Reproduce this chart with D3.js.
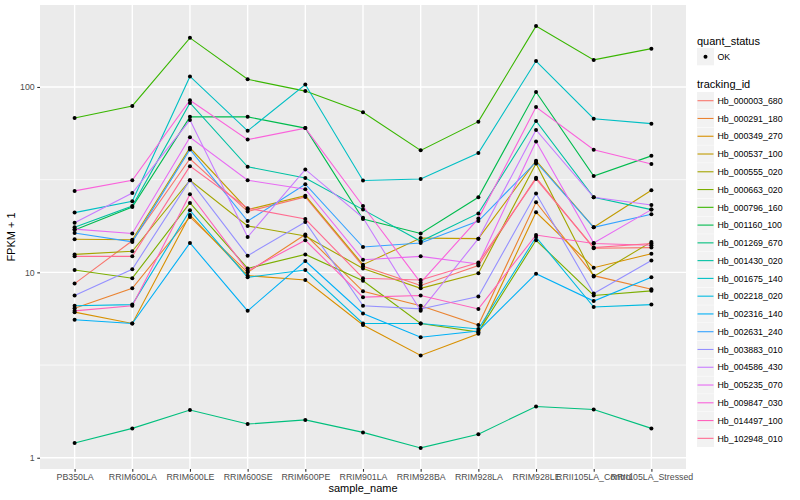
<!DOCTYPE html>
<html>
<head>
<meta charset="utf-8">
<script src="https://cdn.jsdelivr.net/npm/d3@7"></script>
<style>
  body { margin: 0; background: #fff; }
  text { font-family: "Liberation Sans", Arial, sans-serif; }
</style>
</head>
<body>
<svg id="chart" width="800" height="500"></svg>
<script>
// samples on the x axis
const samples = ["PB350LA", "RRIM600LA", "RRIM600LE", "RRIM600SE", "RRIM600PE", "RRIM901LA",
  "RRIM928BA", "RRIM928LA", "RRIM928LE", "RRII105LA_Control", "RRII105LA_Stressed"];

const trackingIds = ["Hb_000003_680", "Hb_000291_180", "Hb_000349_270", "Hb_000537_100", "Hb_000555_020",
  "Hb_000663_020", "Hb_000796_160", "Hb_001160_100", "Hb_001269_670", "Hb_001430_020",
  "Hb_001675_140", "Hb_002218_020", "Hb_002316_140", "Hb_002631_240", "Hb_003883_010",
  "Hb_004586_430", "Hb_005235_070", "Hb_009847_030", "Hb_014497_100", "Hb_102948_010"];

// FPKM + 1, one row per tracking id, one value per sample
const fpkmPlusOne = [
  [8.7, 14.8, 41, 21.3, 25.5, 10.8, 8.5, 10.9, 32.4, 13.5, 13.6],   // Hb_000003_680
  [6.4, 8.2, 19.9, 10.0, 16, 7.9, 6.6, 5.2, 23.9, 9.6, 8.1],        // Hb_000291_180
  [6.1, 5.3, 20.4, 9.6, 9.1, 5.2, 3.56, 4.66, 21.1, 10.6, 12.6],    // Hb_000349_270
  [15.1, 15.0, 47, 21.8, 25.9, 11.0, 15.3, 15.2, 40, 17.5, 27.7],   // Hb_000537_100
  [12.5, 13.0, 31.4, 17.8, 15.7, 10.5, 8.2, 9.9, 38.7, 9.5, 14.6],  // Hb_000555_020
  [10.3, 9.3, 23.7, 10.5, 12.5, 9.0, 5.3, 4.76, 14.9, 7.5, 7.95],   // Hb_000663_020
  [68, 79, 184, 110, 95, 73, 45.5, 65, 213, 140, 161],              // Hb_000796_160
  [16.9, 22.5, 69, 69, 60, 19.4, 16.2, 25.4, 94, 33.1, 42.5],       // Hb_001160_100
  [1.2, 1.44, 1.81, 1.52, 1.6, 1.37, 1.13, 1.34, 1.89, 1.82, 1.44], // Hb_001269_670
  [17.5, 22.8, 82, 37.1, 32.3, 21.8, 14.7, 20.8, 65.5, 25.4, 21.8], // Hb_001430_020
  [21.0, 24.2, 114, 58, 103, 31.3, 31.9, 44, 138, 67.4, 63.4],      // Hb_001675_140
  [6.6, 6.7, 21.6, 9.4, 10.3, 5.3, 5.3, 4.95, 15.5, 6.5, 6.7],      // Hb_002218_020
  [5.55, 5.3, 14.4, 6.2, 11.5, 6.0, 4.47, 4.83, 9.84, 7.0, 9.4],    // Hb_002316_140
  [16.3, 14.6, 46, 18.9, 29.9, 13.7, 14.4, 18.9, 39.4, 17.5, 20.6], // Hb_002631_240
  [7.5, 10.4, 31.4, 12.3, 18.7, 6.6, 6.35, 7.4, 26.6, 7.7, 11.6],   // Hb_003883_010
  [18.5, 26.8, 66.3, 15.5, 35.9, 19.7, 6.2, 15.2, 58.6, 25.4, 23.1],// Hb_004586_430
  [17.1, 16.2, 53.5, 31.4, 28.1, 11.7, 12.2, 11.1, 50.8, 14.4, 21.8],// Hb_005235_070
  [27.5, 31.4, 84.8, 52, 60, 22.8, 8.8, 19.5, 78, 45.9, 38.4],      // Hb_009847_030
  [6.2, 6.6, 26.4, 10.2, 14.9, 7.35, 7.5, 6.35, 15.9, 14.3, 14.0],  // Hb_014497_100
  [12.2, 12.2, 37.4, 22.2, 19.4, 9.3, 9.1, 11.3, 31.9, 13.6, 14.3]  // Hb_102948_010
];

const quantStatus = ["OK"];
const yTicks = [1, 10, 100];
const yMinorTicks = [Math.sqrt(10), Math.sqrt(1000)];

// ggplot default hue palette for 20 levels
const palette = ["#F8766D", "#EA8331", "#D89000", "#C09B00", "#A3A500", "#7CAE00", "#39B600",
  "#00BB4E", "#00BF7D", "#00C1A3", "#00BFC4", "#00BAE0", "#00B0F6", "#35A2FF", "#9590FF",
  "#C77CFF", "#E76BF3", "#FA62DB", "#FF62BC", "#FF6C91"];

const svg = d3.select("#chart");
const panel = { left: 40, right: 686, top: 5, bottom: 469 };

const x = d3.scalePoint().domain(samples).range([panel.left, panel.right]).padding(0.6);

// log scale with ggplot-like 5% expansion in log space
const ext = d3.extent(fpkmPlusOne.flat()).map(Math.log10);
const pad = (ext[1] - ext[0]) * 0.05;
const y = d3.scaleLog()
  .domain([Math.pow(10, ext[0] - pad), Math.pow(10, ext[1] + pad)])
  .range([panel.bottom, panel.top]);

const color = d3.scaleOrdinal().domain(trackingIds).range(palette);

// panel background
svg.append("rect")
  .attr("x", panel.left).attr("y", panel.top)
  .attr("width", panel.right - panel.left).attr("height", panel.bottom - panel.top)
  .attr("fill", "#EBEBEB");

const grid = svg.append("g");
grid.selectAll("line.minor").data(yMinorTicks).enter().append("line")
  .attr("x1", panel.left).attr("x2", panel.right)
  .attr("y1", d => y(d)).attr("y2", d => y(d))
  .attr("stroke", "#fff").attr("stroke-width", 0.7);
grid.selectAll("line.major").data(yTicks).enter().append("line")
  .attr("x1", panel.left).attr("x2", panel.right)
  .attr("y1", d => y(d)).attr("y2", d => y(d))
  .attr("stroke", "#fff").attr("stroke-width", 1.4);
grid.selectAll("line.vert").data(samples).enter().append("line")
  .attr("x1", d => x(d)).attr("x2", d => x(d))
  .attr("y1", panel.top).attr("y2", panel.bottom)
  .attr("stroke", "#fff").attr("stroke-width", 1.4);

// series lines
const line = d3.line()
  .x((d, i) => x(samples[i]))
  .y(d => y(d));

svg.append("g").selectAll("path").data(fpkmPlusOne).enter().append("path")
  .attr("d", line)
  .attr("fill", "none")
  .attr("stroke", (d, i) => color(trackingIds[i]))
  .attr("stroke-width", 1.1);

// points
const pts = svg.append("g");
fpkmPlusOne.forEach(row => {
  pts.selectAll(null).data(row).enter().append("circle")
    .attr("cx", (d, i) => x(samples[i]))
    .attr("cy", d => y(d))
    .attr("r", 2)
    .attr("fill", "#000");
});

// axes
const xAxis = svg.append("g")
  .attr("transform", `translate(0,${panel.bottom})`)
  .call(d3.axisBottom(x).tickSize(2.75).tickPadding(2.5));
const yAxis = svg.append("g")
  .attr("transform", `translate(${panel.left},0)`)
  .call(d3.axisLeft(y).tickValues(yTicks).tickFormat(d3.format("d")).tickSize(2.75).tickPadding(2.5));

[xAxis, yAxis].forEach(a => {
  a.select(".domain").remove();
  a.selectAll(".tick line").attr("stroke", "#333").attr("stroke-width", 1.1);
  a.selectAll(".tick text").attr("fill", "#4D4D4D")
    .style("font-size", "8.8px").style("font-family", "Liberation Sans, Arial, sans-serif");
});

svg.append("text")
  .attr("x", (panel.left + panel.right) / 2).attr("y", 492)
  .attr("text-anchor", "middle").style("font-size", "11px").text("sample_name");
svg.append("text")
  .attr("transform", `translate(15,${(panel.top + panel.bottom) / 2}) rotate(-90)`)
  .attr("text-anchor", "middle").style("font-size", "11px").text("FPKM + 1");

// legends
const legX = 697, keyW = 17, keyH = 17.3;
const leg = svg.append("g");

leg.append("text").attr("x", legX).attr("y", 44.5).style("font-size", "11px").text("quant_status");
quantStatus.forEach((q, i) => {
  const cy = 56.7 + i * 17.77;
  leg.append("rect").attr("x", legX).attr("y", cy - keyH / 2).attr("width", keyW).attr("height", keyH)
    .attr("fill", "#F2F2F2");
  leg.append("circle").attr("cx", legX + keyW / 2).attr("cy", cy).attr("r", 2).attr("fill", "#000");
  leg.append("text").attr("x", legX + keyW + 3.5).attr("y", cy + 3.2)
    .style("font-size", "8.8px").text(q);
});

leg.append("text").attr("x", legX).attr("y", 88).style("font-size", "11px").text("tracking_id");
trackingIds.forEach((id, i) => {
  const cy = 100.7 + i * 17.77;
  leg.append("rect").attr("x", legX).attr("y", cy - keyH / 2).attr("width", keyW).attr("height", keyH)
    .attr("fill", "#F2F2F2");
  leg.append("line").attr("x1", legX + 0.5).attr("x2", legX + keyW - 0.5)
    .attr("y1", cy).attr("y2", cy)
    .attr("stroke", color(id)).attr("stroke-width", 1.1);
  leg.append("text").attr("x", legX + keyW + 3.5).attr("y", cy + 3.2)
    .style("font-size", "8.8px").text(id);
});
</script>
</body>
</html>
